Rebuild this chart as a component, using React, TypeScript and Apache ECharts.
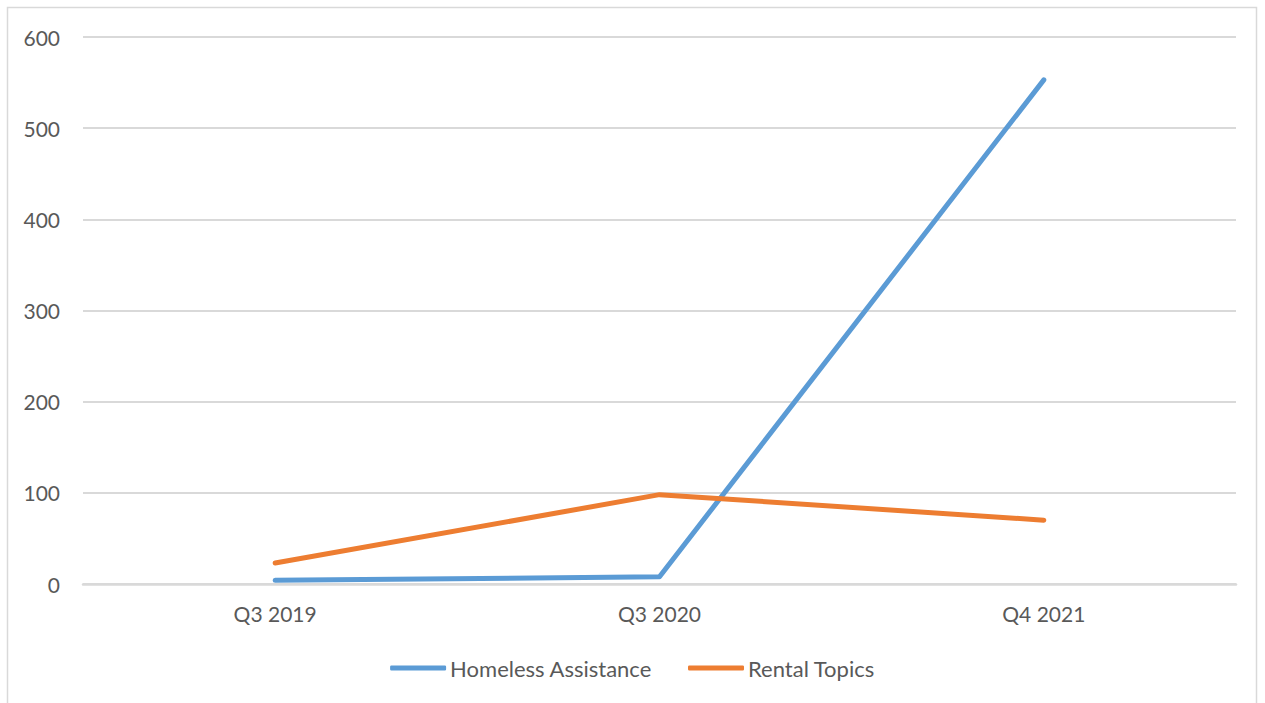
import React, { useEffect, useRef } from "react";
import * as echarts from "echarts";

const categories = ["Q3 2019", "Q3 2020", "Q4 2021"];
const homelessAssistance = [4, 8, 553];
const rentalTopics = [23, 98, 70];
const yTicks = { min: 0, max: 600, interval: 100 };

export default function App() {
  const ref = useRef<HTMLDivElement>(null);
  useEffect(() => {
    if (!ref.current) return;
    const chart = echarts.init(ref.current, null, { renderer: "svg" });
    const font = "Lato, 'Open Sans', sans-serif";
    chart.setOption({
      animation: false,
      backgroundColor: "#ffffff",
      textStyle: { fontFamily: font },
      graphic: [
        {
          type: "rect",
          shape: { x: 7.5, y: 7.5, width: 1249, height: 720 },
          style: { fill: "none", stroke: "#d9d9d9", lineWidth: 1.5 },
          silent: true,
        },
      ],
      grid: { left: 83, right: 29, top: 37, bottom: 119 },
      xAxis: {
        type: "category",
        data: categories,
        boundaryGap: true,
        axisLine: { show: true, lineStyle: { color: "#d9d9d9", width: 2.5 } },
        axisTick: { show: false },
        axisLabel: { color: "#595959", fontSize: 21, margin: 19, fontFamily: font },
      },
      yAxis: {
        type: "value",
        min: yTicks.min,
        max: yTicks.max,
        interval: yTicks.interval,
        axisLine: { show: false },
        axisTick: { show: false },
        axisLabel: { color: "#595959", fontSize: 21, margin: 23, fontFamily: font },
        splitLine: { lineStyle: { color: "#d9d9d9", width: 2 } },
      },
      legend: {
        top: 652,
        left: "center",
        itemWidth: 56,
        itemHeight: 5,
        itemGap: 36,
        icon: "roundRect",
        textStyle: { color: "#595959", fontSize: 22, padding: [0, 0, 0, -1], fontFamily: font },
        data: ["Homeless Assistance", "Rental Topics"],
      },
      series: [
        {
          name: "Homeless Assistance",
          type: "line",
          data: homelessAssistance,
          showSymbol: false,
          symbol: "none",
          color: "#5B9BD5",
          lineStyle: { width: 5, color: "#5B9BD5", cap: "round", join: "round" },
        },
        {
          name: "Rental Topics",
          type: "line",
          data: rentalTopics,
          showSymbol: false,
          symbol: "none",
          color: "#ED7D31",
          lineStyle: { width: 5, color: "#ED7D31", cap: "round", join: "round" },
        },
      ],
    });
    return () => chart.dispose();
  }, []);
  return (
    <div
      ref={ref}
      style={{ position: "absolute", left: 0, top: 0, width: 1265, height: 703 }}
    />
  );
}
